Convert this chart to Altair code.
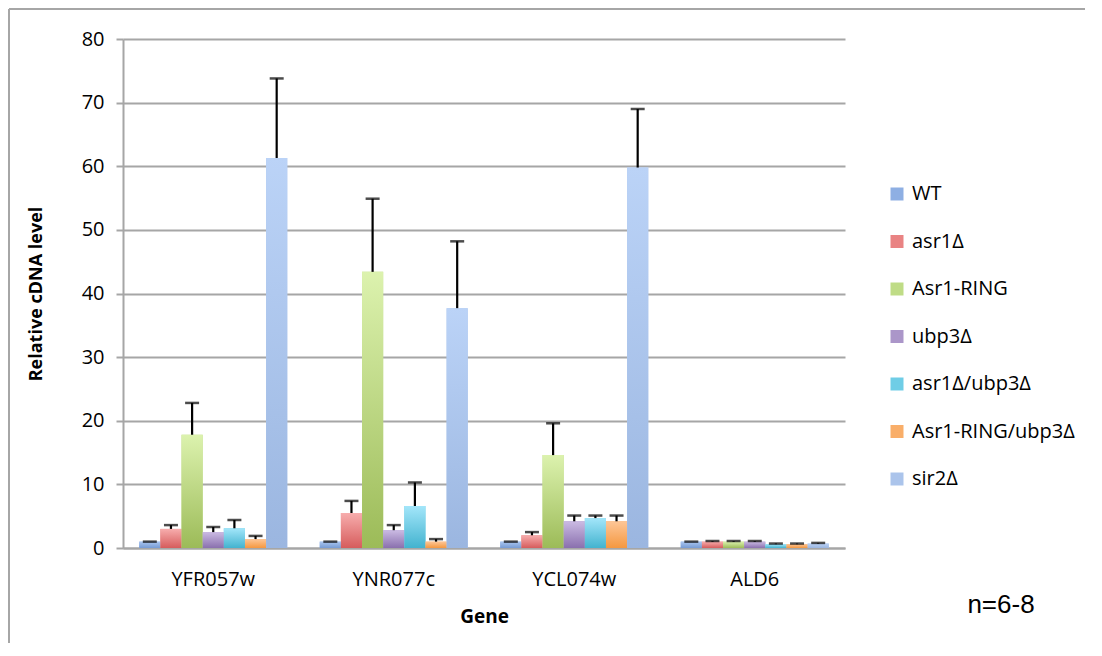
import altair as alt
import pandas as pd

genes = ["YFR057w", "YNR077c", "YCL074w", "ALD6"]
series = ["WT", "asr1Δ", "Asr1-RING", "ubp3Δ", "asr1Δ/ubp3Δ", "Asr1-RING/ubp3Δ", "sir2Δ"]

# mean values per series (one per gene)
wt = [1.0, 1.0, 1.0, 1.0]
asr1 = [3.0, 5.5, 2.0, 1.0]
ring = [17.8, 43.4, 14.6, 1.0]
ubp3 = [2.5, 2.8, 4.2, 1.0]
asr1_ubp3 = [3.1, 6.6, 4.7, 0.6]
ring_ubp3 = [1.4, 1.0, 4.2, 0.6]
sir2 = [61.3, 37.7, 59.8, 0.7]

# top of error bars
wt_err = [1.0, 1.0, 1.0, 1.0]
asr1_err = [3.6, 7.4, 2.5, 1.1]
ring_err = [22.8, 54.9, 19.6, 1.1]
ubp3_err = [3.3, 3.6, 5.1, 1.1]
asr1_ubp3_err = [4.4, 10.3, 5.1, 0.7]
ring_ubp3_err = [1.9, 1.4, 5.1, 0.7]
sir2_err = [73.8, 48.2, 69.0, 0.8]

values = [wt, asr1, ring, ubp3, asr1_ubp3, ring_ubp3, sir2]
errs = [wt_err, asr1_err, ring_err, ubp3_err, asr1_ubp3_err, ring_ubp3_err, sir2_err]

mid_colors = ["#8eafe3", "#e98383", "#bfdc86", "#ab96c9", "#6fcde6", "#f9ae69", "#abc4eb"]
top_colors = ["#a9c5f0", "#f7adad", "#dcf2ae", "#cbbbe3", "#a3e6fa", "#fdc697", "#bbd3f7"]
bot_colors = ["#769bd4", "#d65c5c", "#9cbb58", "#8a70ae", "#43b3cf", "#f59840", "#9bb6e0"]

rows = []
for s, vals, es in zip(series, values, errs):
    for g, v, e in zip(genes, vals, es):
        rows.append({"gene": g, "series": s, "value": v, "err": e})
df = pd.DataFrame(rows)

FONT = "Open Sans"
GRAY = "#a6a6a6"

base = alt.Chart(df).encode(
    x=alt.X(
        "gene:N",
        sort=genes,
        scale=alt.Scale(paddingInner=0.18, paddingOuter=0.09),
        axis=alt.Axis(
            title="Gene",
            labelAngle=0,
            ticks=False,
            domainColor=GRAY,
            domainWidth=2,
            labelFont=FONT,
            labelFontSize=20,
            labelColor="black",
            labelPadding=21,
            titleFont=FONT,
            titleFontSize=19,
            titleFontWeight="bold",
            titleColor="black",
            titlePadding=18,
        ),
    ),
    xOffset=alt.XOffset(
        "series:N", sort=series,
        scale=alt.Scale(domain=series, paddingInner=0, paddingOuter=0),
    ),
)

yenc = alt.Y(
    "value:Q",
    scale=alt.Scale(domain=[0, 80], nice=False),
    axis=alt.Axis(
        values=list(range(0, 81, 10)),
        grid=True,
        gridColor=GRAY,
        gridWidth=2,
        domainColor=GRAY,
        domainWidth=2,
        tickColor=GRAY,
        tickWidth=2,
        tickSize=7,
        labelFont=FONT,
        labelFontSize=20,
        labelColor="black",
        labelPadding=12,
        title="Relative cDNA level",
        titleFont=FONT,
        titleFontSize=18,
        titleFontWeight="bold",
        titleColor="black",
        titlePadding=36,
    ),
)

bars = base.mark_bar().encode(
    y=yenc,
    color=alt.Color(
        "series:N",
        sort=series,
        scale=alt.Scale(domain=series, range=mid_colors),
        legend=alt.Legend(
            title=None,
            orient="none",
            legendX=764,
            legendY=145,
            padding=0,
            symbolType="square",
            symbolSize=169,
            symbolStrokeWidth=0,
            labelFont=FONT,
            labelFontSize=20,
            labelColor="black",
            labelOffset=5,
            labelLimit=400,
            rowPadding=27.5,
        ),
    ),
)

grad_layers = []
for s, tc, bc in zip(series, top_colors, bot_colors):
    grad_layers.append(
        base.transform_filter(alt.datum.series == s)
        .mark_bar(
            color=alt.Gradient(
                gradient="linear",
                stops=[alt.GradientStop(color=tc, offset=0), alt.GradientStop(color=bc, offset=1)],
                x1=0, x2=0, y1=0, y2=1,
            )
        )
        .encode(y=alt.Y("value:Q"))
    )

err_rule = base.mark_rule(color="black", strokeWidth=2.2).encode(
    y=alt.Y("value:Q"), y2=alt.Y2("err:Q")
)
err_cap = base.mark_tick(color="black", thickness=2.5, size=14).encode(y=alt.Y("err:Q"))

frame_df = pd.DataFrame({"k": [0]})
frame_left = alt.Chart(frame_df).mark_rule(color=GRAY, strokeWidth=2).encode(
    x=alt.value(-114), y=alt.value(-30), y2=alt.value(610)
)
frame_top = alt.Chart(frame_df).mark_rule(color=GRAY, strokeWidth=2).encode(
    x=alt.value(-114), x2=alt.value(990), y=alt.value(-30)
)
note = alt.Chart(frame_df).mark_text(
    text="n=6-8", font="Liberation Sans", fontSize=26, color="black",
    align="center", baseline="alphabetic",
).encode(x=alt.value(878), y=alt.value(574))

chart = alt.layer(
    bars, *grad_layers, err_rule, err_cap, frame_left, frame_top, note
).properties(
    width=722,
    height=509,
    autosize=alt.AutoSizeParams(type="none"),
    padding={"left": 115, "top": 31, "right": 240, "bottom": 95},
).configure_view(strokeWidth=0)

chart.save("out.html", embed_options={"renderer": "svg", "actions": False})
